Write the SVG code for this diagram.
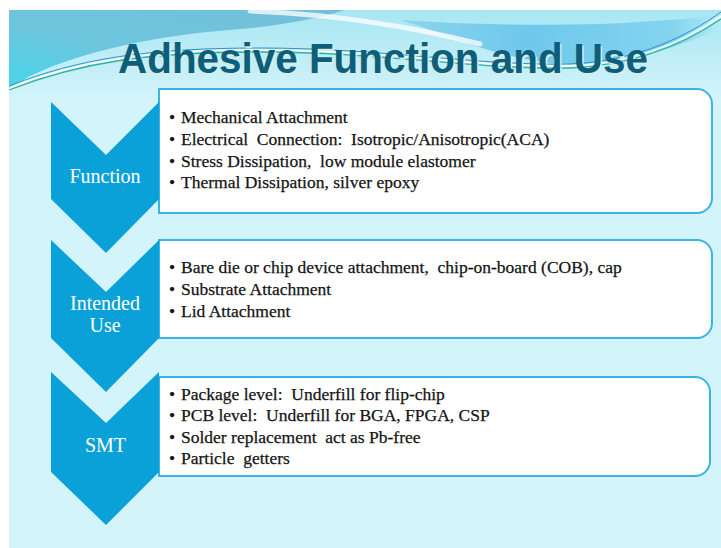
<svg xmlns="http://www.w3.org/2000/svg" width="721" height="548" viewBox="0 0 721 548">
<defs>
<style>
.chev{fill:#0aa1d9}
.box{fill:#ffffff;stroke:#3ab3e5;stroke-width:2}
.lbl{font-family:"Liberation Serif","DejaVu Serif",serif;font-size:20px;fill:#ffffff;text-anchor:middle}
.txt{font-family:"Liberation Serif","DejaVu Serif",serif;font-size:17.5px;fill:#141414;stroke:#141414;stroke-width:0.25}
.ttl{font-family:"Liberation Sans Narrow","Liberation Sans",Arial,sans-serif;font-weight:bold;font-size:42px}
</style>
<linearGradient id="hdr" x1="0" y1="0" x2="0" y2="1">
<stop offset="0" stop-color="#a8e6f2"/>
<stop offset="1" stop-color="#d3f4fb"/>
</linearGradient>
<linearGradient id="tl" x1="1" y1="0" x2="0" y2="1">
<stop offset="0" stop-color="#74bfd9"/>
<stop offset="0.6" stop-color="#6cc6de"/>
<stop offset="1" stop-color="#45d6ea"/>
</linearGradient>
<linearGradient id="tr" x1="0" y1="0" x2="1" y2="0">
<stop offset="0" stop-color="#8ad6ec"/>
<stop offset="0.4" stop-color="#6ec8ec"/>
<stop offset="0.85" stop-color="#84d4ee"/>
<stop offset="1" stop-color="#b4ecf6"/>
</linearGradient>
</defs>
<rect x="0" y="0" width="721" height="548" fill="#ffffff"/>
<rect x="9" y="10" width="712" height="538" fill="#d3f4fb"/>
<g id="header">
<rect x="9" y="10" width="712" height="90" fill="url(#hdr)"/>
<path d="M9,10 H345 C320,18 280,26 230,30 C150,36 60,55 9,88 Z" fill="url(#tl)"/>
<path d="M400,20 C460,24 530,26 600,24 C650,22 690,18 721,16 V28 C690,42 650,58 590,64 C540,66 500,54 470,44 C445,35 420,26 400,20 Z" fill="url(#tr)"/>
<path d="M250,11 C330,14 410,26 480,44" fill="none" stroke="#ffffff" stroke-opacity="0.75" stroke-width="5" stroke-linecap="round"/>
<path d="M9,88 C80,60 150,50 260,50 C380,50 480,68 570,66 C640,63 690,38 721,16" fill="none" stroke="#ffffff" stroke-opacity="0.8" stroke-width="2"/>
<path d="M9,90 C80,62 150,52 260,52 C380,52 480,70 570,68 C640,65 690,40 721,19" fill="none" stroke="#2fb59c" stroke-width="1.3"/>
<path d="M9,86 C80,58 150,48 260,48 C380,48 480,66 570,64 C640,61 690,34 721,12" fill="none" stroke="#2a8fcf" stroke-width="1"/>
</g>
<g id="title">
<text class="ttl" x="384.5" y="74.5" text-anchor="middle" textLength="530" lengthAdjust="spacingAndGlyphs" fill="#d9ece6">Adhesive Function and Use</text>
<text class="ttl" x="383" y="73" text-anchor="middle" textLength="530" lengthAdjust="spacingAndGlyphs" fill="#0d5e7b">Adhesive Function and Use</text>
</g>
<g id="connectors"></g>
<g id="function">
<path class="box" d="M159,89 H697 A15,15 0 0 1 712,104 V198 A15,15 0 0 1 697,213 H159 Z"/>
<path class="chev" d="M51,102 L106,155 L159,102 V199 L106,253 L51,199 Z"/>
<text class="lbl" x="105" y="183">Function</text>
<text class="txt" xml:space="preserve"><tspan x="169" y="123">•</tspan><tspan x="181" y="123">Mechanical Attachment</tspan><tspan x="169" y="145">•</tspan><tspan x="181" y="145">Electrical  Connection:  Isotropic/Anisotropic(ACA)</tspan><tspan x="169" y="166.5">•</tspan><tspan x="181" y="166.5">Stress Dissipation,  low module elastomer</tspan><tspan x="169" y="188">•</tspan><tspan x="181" y="188">Thermal Dissipation, silver epoxy</tspan></text>
</g>
<g id="intended-use">
<path class="box" d="M159,240 H697 A15,15 0 0 1 712,255 V323 A15,15 0 0 1 697,338 H159 Z"/>
<path class="chev" d="M51,240 L106,292 L159,240 V338 L106,392 L51,338 Z"/>
<text class="lbl" x="105" y="310">Intended</text>
<text class="lbl" x="105" y="331.5">Use</text>
<text class="txt" xml:space="preserve"><tspan x="169" y="273">•</tspan><tspan x="181" y="273">Bare die or chip device attachment,  chip-on-board (COB), cap</tspan><tspan x="169" y="294.5">•</tspan><tspan x="181" y="294.5">Substrate Attachment</tspan><tspan x="169" y="316.5">•</tspan><tspan x="181" y="316.5">Lid Attachment</tspan></text>
</g>
<g id="smt">
<path class="box" d="M159,377 H695 A15,15 0 0 1 710,392 V461 A15,15 0 0 1 695,476 H159 Z"/>
<path class="chev" d="M51,372 L106,423 L159,372 V472 L106,525 L51,472 Z"/>
<text class="lbl" x="105.5" y="452">SMT</text>
<text class="txt" xml:space="preserve"><tspan x="169" y="399.5">•</tspan><tspan x="181" y="399.5">Package level:  Underfill for flip-chip</tspan><tspan x="169" y="421">•</tspan><tspan x="181" y="421">PCB level:  Underfill for BGA, FPGA, CSP</tspan><tspan x="169" y="442.5">•</tspan><tspan x="181" y="442.5">Solder replacement  act as Pb-free</tspan><tspan x="169" y="464">•</tspan><tspan x="181" y="464">Particle  getters</tspan></text>
</g>
</svg>
